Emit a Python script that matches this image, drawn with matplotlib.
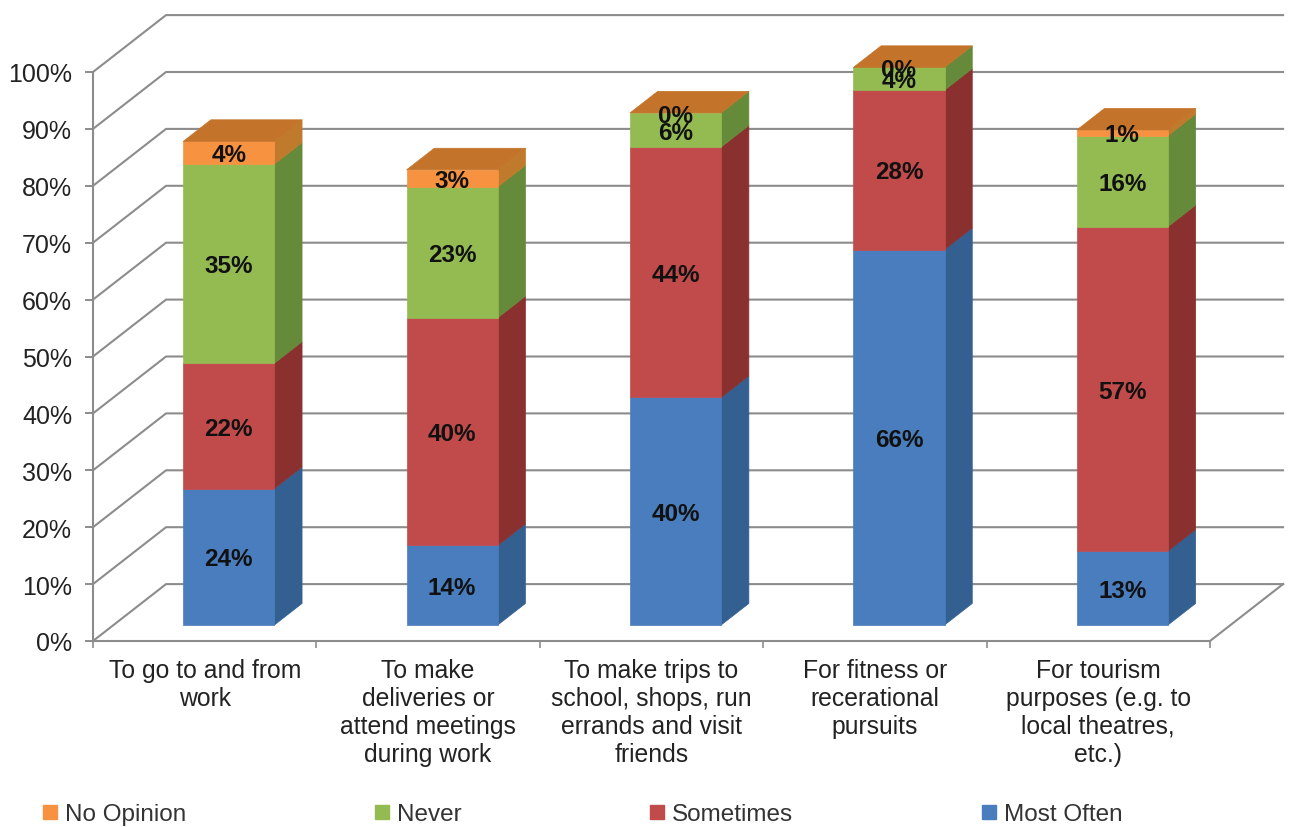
import matplotlib
matplotlib.use("Agg")
import matplotlib.pyplot as plt
from matplotlib.lines import Line2D
from matplotlib.patches import Polygon

plt.rcParams["font.family"] = ["Liberation Sans", "DejaVu Sans"]

# datos
categorias = ["To go to and from\nwork",
              "To make\ndeliveries or\nattend meetings\nduring work",
              "To make trips to\nschool, shops, run\nerrands and visit\nfriends",
              "For fitness or\nrecerational\npursuits",
              "For tourism\npurposes (e.g. to\nlocal theatres,\netc.)"]
most_often = [24, 14, 40, 66, 13]
sometimes = [22, 40, 44, 28, 57]
never = [35, 23, 6, 4, 16]
no_opinion = [4, 3, 0, 0, 1]
y_ticks = [0, 10, 20, 30, 40, 50, 60, 70, 80, 90, 100]

# nombre, valores, frente, lado
series = [("Most Often", most_often, "#4a7dbd", "#335f91"),
          ("Sometimes", sometimes, "#c04b4a", "#8a3130"),
          ("Never", never, "#94bb52", "#648a3a"),
          ("No Opinion", no_opinion, "#f79240", "#c07a2c")]

# profundidad del piso en unidades de datos
dx_fondo = 0.327
dy_fondo = 10.0
d_frente = 0.28
d_atras = 0.66
ancho = 0.408
corrimiento = 0.016  # las barras van un poco a la derecha del centro
gris = "#8c8c8c"


def proy(x, y, d):
    return (x + d * dx_fondo, y + d * dy_fondo)


def cara(ax, puntos, color, z):
    ax.add_patch(Polygon(puntos, closed=True, facecolor=color, edgecolor=color,
                         linewidth=0.5, zorder=z, clip_on=False))


fig = plt.figure(figsize=(13.03, 8.28), dpi=100)
ax = fig.add_axes([93 / 1303, (828 - 642) / 828, 1117 / 1303, 569 / 828])
ax.set_xlim(0, 5)
ax.set_ylim(0, 100)

# paredes
for v in y_ticks:
    p0 = proy(0, v, 0)
    p1 = proy(0, v, 1)
    p2 = proy(5, v, 1)
    ax.plot([p0[0], p1[0], p2[0]], [p0[1], p1[1], p2[1]], color=gris, lw=1.5,
            zorder=1, clip_on=False)
p0 = proy(5, 0, 0)
p1 = proy(5, 0, 1)
ax.plot([p0[0], p1[0]], [p0[1], p1[1]], color=gris, lw=1.5, zorder=1, clip_on=False)

# barras
for i in range(len(categorias)):
    centro = i + 0.5 + corrimiento
    x0 = centro - ancho / 2
    x1 = centro + ancho / 2
    base = 0
    for nombre, valores, c_frente, c_lado in series:
        v = valores[i]
        if v > 0:
            tope = base + v
            cara(ax, [proy(x1, base, d_frente), proy(x1, base, d_atras),
                      proy(x1, tope, d_atras), proy(x1, tope, d_frente)], c_lado, 3)
            cara(ax, [proy(x0, base, d_frente), proy(x1, base, d_frente),
                      proy(x1, tope, d_frente), proy(x0, tope, d_frente)], c_frente, 4)
        xt, yt = proy(centro, base + v / 2, d_frente)
        ax.annotate("%d%%" % v, (xt, yt), xytext=(0, -1.5), textcoords="offset points",
                    ha="center", va="center", fontsize=17.5, fontweight="bold",
                    color="#111111", zorder=6, annotation_clip=False)
        base += v
    cara(ax, [proy(x0, base, d_frente), proy(x1, base, d_frente),
              proy(x1, base, d_atras), proy(x0, base, d_atras)], "#c4742a", 5)

# ejes
for lado in ["top", "right"]:
    ax.spines[lado].set_visible(False)
for lado in ["left", "bottom"]:
    ax.spines[lado].set_color(gris)
    ax.spines[lado].set_linewidth(1.5)
ax.set_yticks(y_ticks)
ax.set_yticklabels(["%d%%" % v for v in y_ticks], fontsize=18, color="#222222")
ax.tick_params(axis="y", length=6, color=gris, width=1.4, pad=9)
ax.set_xticks([i + 0.5 for i in range(5)])
ax.set_xticklabels(categorias, fontsize=17.8, color="#222222", linespacing=1.2)
ax.set_xticks(range(6), minor=True)
ax.tick_params(axis="x", which="major", length=0, pad=12.5)
ax.tick_params(axis="x", which="minor", length=5, color=gris, width=1.2)
ax.patch.set_alpha(0)

# leyenda
manijas = [Line2D([], [], linestyle="", marker="s", markersize=10, color=s[2])
           for s in reversed(series)]
fig.legend(manijas, [s[0] for s in reversed(series)], ncol=4, frameon=False,
           loc="center left", bbox_to_anchor=(17 / 1303, 1 - 815 / 828), fontsize=17.5,
           columnspacing=7.6, handlelength=0.9, handletextpad=0.17, labelcolor="#333333")

fig.savefig("out.png", dpi=100)
